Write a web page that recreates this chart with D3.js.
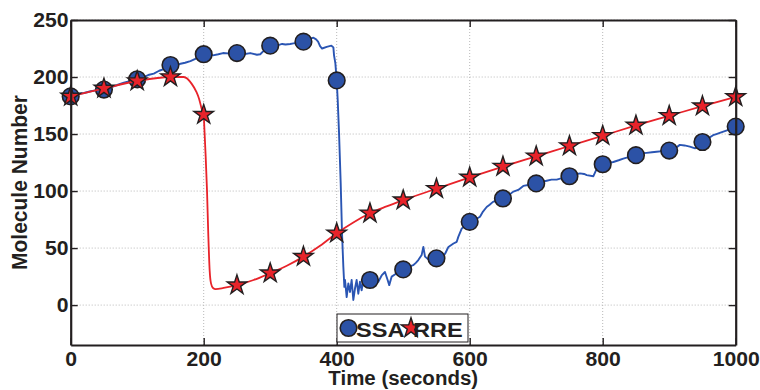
<!DOCTYPE html>
<html>
<head>
<meta charset="utf-8">
<script src="https://cdn.jsdelivr.net/npm/d3@7"></script>
<style>
  html, body { margin: 0; padding: 0; background: #fff; }
  svg text { font-family: "Liberation Sans", Arial, Helvetica, sans-serif; font-weight: bold; fill: #231f20; }
</style>
</head>
<body>
<svg id="chart" width="760" height="390"></svg>
<script>
// Stochastic (SSA) trajectory, sampled along time
const ssaTime = [0,10,20,30,40,50,60,70,80,90,100,110,118,125,133,140,150,160,172,180,190,200,207,214,222,229,240,250,260,270,280,285,292,300,305,312,318,323,330,335,342,350,358,365,369,372,375,378,385,392,395,396,398,400,401.5,403.5,406,408,410,411.5,412.5,415,417.5,420,422.5,425,427.5,430,432.5,435,437.5,440,442.5,446,450,455,459,462.6,467.6,472.6,476.6,479,482.7,488,494,500,505,510,515,519,522.7,527.8,530.3,532.8,538,544,550,556,563,568,575.6,580.5,583,588,595,600,608,615.5,620,625.5,630,635,642,650,658,665.6,673,680.6,690,700,708,715.8,723,730.8,740,750,758,765.9,772,776,786,791,800,808,816,824,831,840,850,858,866,874,881,890,900,908,916,923,931,939,945,950,958,966,971,976,988,1000];
const ssaValue = [183,185,186,187.5,188.5,189,191,193,195,196.5,198,200,202,203,205.5,207,210.5,211,212.5,214,216.5,220,220,219,220,221,220.5,221,220,221,219.5,220,224,227.5,228.5,228,229,228.5,229,229.5,230,231,233,234.5,233,231,227,225,226.5,227.5,226,219,212,197,180,151,107,63,33.5,16,22,7,19,11.5,22,4.5,14.5,22,10,20.5,13,22,17.5,21,22,19,23,20.5,26,29,22,17.5,25,27,30,31.3,32,34,35,37,39.5,44,51,42.5,40,41,41,42,45,51,54,55.5,60,67,71,73,75,77.5,82,86,88,90.5,92,93.5,96,99.5,101,104.5,105.5,106.7,108,109,110,110,111.5,113,114.5,115.5,115,114,113,119.5,123.5,124.5,125.5,127,128.5,130,131.5,133,133.5,134,134.5,135,135.5,137,140.5,140,139,137.5,140,143,146,149,150,151,153.5,156.5];

// Deterministic (RRE) solution
const rreTime = [0,50,100,150,170,182,189,193,197,200,201,203,205,207,209,211,214,218,230,250,275,300,325,350,375,400,425,450,475,500,550,600,650,700,750,800,850,900,950,1000];
const rreValue = [183,190,196.5,200,200,194,187,181,172,167,155,130,100,60,30,19,15,14,15,17.5,22,28,34.5,42.5,52,63,72.5,80.5,86.5,92,102,112,121.5,130.5,139.5,148.5,157.5,166,174.5,182.5];

// Marker samples every 50 s
const markTime = [0,50,100,150,200,250,300,350,400,450,500,550,600,650,700,750,800,850,900,950,1000];
const ssaMarks = [183,189,198,210.5,220,221,227.5,231,197,22,31.3,41,73,93.5,106.7,113,123.5,131.5,135.5,143,156.5];
const rreMarks = [183,190,196.5,200,167,17.5,28,42.5,63,80.5,92,102,112,121.5,130.5,139.5,148.5,157.5,166,174.5,182.5];

const xTicks = [0,200,400,600,800,1000];
const yTicks = [0,50,100,150,200,250];
const seriesNames = ["SSA","RRE"];
const xTitle = "Time (seconds)";
const yTitle = "Molecule Number";

const W = 760, H = 390;
const m = { left: 70.7, right: 24.3, top: 20, bottom: 45 };
const iw = W - m.left - m.right, ih = H - m.top - m.bottom;

const blue = "#2c52a6", blueLine = "#2a55b3", red = "#e8232a", ink = "#231f20";

const svg = d3.select("#chart");
const g = svg.append("g").attr("transform", `translate(${m.left},${m.top})`);

const x = d3.scaleLinear().domain([0, 1000]).range([0, iw]);
const y = d3.scaleLinear().domain([-35, 250]).range([ih, 0]);

// dotted grid
g.append("g").selectAll("line").data(yTicks).join("line")
  .attr("x1", 0).attr("x2", iw).attr("y1", d => y(d)).attr("y2", d => y(d))
  .attr("stroke", "#b8b8b8").attr("stroke-width", 1).attr("stroke-dasharray", "1,2");
g.append("g").selectAll("line").data(xTicks.slice(1, -1)).join("line")
  .attr("y1", 0).attr("y2", ih).attr("x1", d => x(d)).attr("x2", d => x(d))
  .attr("stroke", "#b8b8b8").attr("stroke-width", 1).attr("stroke-dasharray", "1,2");

// SSA line
g.append("path")
  .datum(ssaTime.map((t, i) => [t, ssaValue[i]]))
  .attr("fill", "none").attr("stroke", blueLine).attr("stroke-width", 1.9)
  .attr("stroke-linejoin", "round")
  .attr("d", d3.line().x(d => x(d[0])).y(d => y(d[1])));

// SSA markers
g.append("g").selectAll("circle").data(markTime.map((t, i) => [t, ssaMarks[i]])).join("circle")
  .attr("cx", d => x(d[0])).attr("cy", d => y(d[1])).attr("r", 8.3)
  .attr("fill", blue).attr("stroke", ink).attr("stroke-width", 1.6);

// RRE line
g.append("path")
  .datum(rreTime.map((t, i) => [t, rreValue[i]]))
  .attr("fill", "none").attr("stroke", red).attr("stroke-width", 1.8)
  .attr("d", d3.line().x(d => x(d[0])).y(d => y(d[1])).curve(d3.curveMonotoneX));

// RRE markers
const star = d3.symbol().type(d3.symbolStar).size(118);
g.append("g").selectAll("path").data(markTime.map((t, i) => [t, rreMarks[i]])).join("path")
  .attr("transform", d => `translate(${x(d[0])},${y(d[1])})`)
  .attr("d", star).attr("fill", red).attr("stroke", ink).attr("stroke-width", 1.4)
  .attr("stroke-linejoin", "miter");

// axes with inward ticks on all four sides
const styleAxis = sel => {
  sel.select(".domain").attr("stroke", ink).attr("stroke-width", 2.2);
  sel.selectAll(".tick line").attr("stroke", ink).attr("stroke-width", 1.4);
  sel.selectAll("text").attr("font-size", 20).attr("fill", ink)
    .attr("font-family", "'Liberation Sans', Arial, sans-serif").attr("font-weight", "bold")
    .attr("transform", "scale(1.06,1)");
};
const fmt = d3.format("d");
g.append("g").attr("transform", `translate(0,${ih})`)
  .call(d3.axisBottom(x).tickValues(xTicks).tickFormat(fmt).tickSizeInner(-7).tickSizeOuter(0).tickPadding(7))
  .call(styleAxis);
g.append("g")
  .call(d3.axisTop(x).tickValues(xTicks).tickSizeInner(-7).tickSizeOuter(0).tickFormat(""))
  .call(styleAxis);
g.append("g")
  .call(d3.axisLeft(y).tickValues(yTicks).tickFormat(fmt).tickSizeInner(-7).tickSizeOuter(0).tickPadding(2))
  .call(styleAxis);
g.append("g").attr("transform", `translate(${iw},0)`)
  .call(d3.axisRight(y).tickValues(yTicks).tickSizeInner(-7).tickSizeOuter(0).tickFormat(""))
  .call(styleAxis);

// axis titles
svg.append("text").attr("transform", `translate(${m.left + iw / 2},385) scale(1.05,1)`)
  .attr("text-anchor", "middle").attr("font-size", 19.5).text(xTitle);
svg.append("text").attr("transform", `translate(26.5,${m.top + ih / 2}) scale(1.05,1) rotate(-90)`)
  .attr("text-anchor", "middle").attr("font-size", 21).text(yTitle);

// legend
const lg = svg.append("g").attr("transform", "translate(337,314)");
lg.append("rect").attr("width", 131).attr("height", 28)
  .attr("fill", "#fff").attr("stroke", ink).attr("stroke-width", 1);
lg.append("circle").attr("cx", 11.5).attr("cy", 14).attr("r", 8.3)
  .attr("fill", blue).attr("stroke", ink).attr("stroke-width", 1.6);
lg.append("text").attr("transform", "translate(19,22.5) scale(1.18,1)").attr("font-size", 20).text(seriesNames[0]);
lg.append("path").attr("transform", "translate(74,14)").attr("d", star)
  .attr("fill", red).attr("stroke", ink).attr("stroke-width", 1.4);
lg.append("text").attr("transform", "translate(76,22.5) scale(1.18,1)").attr("font-size", 20).text(seriesNames[1]);
</script>
</body>
</html>
